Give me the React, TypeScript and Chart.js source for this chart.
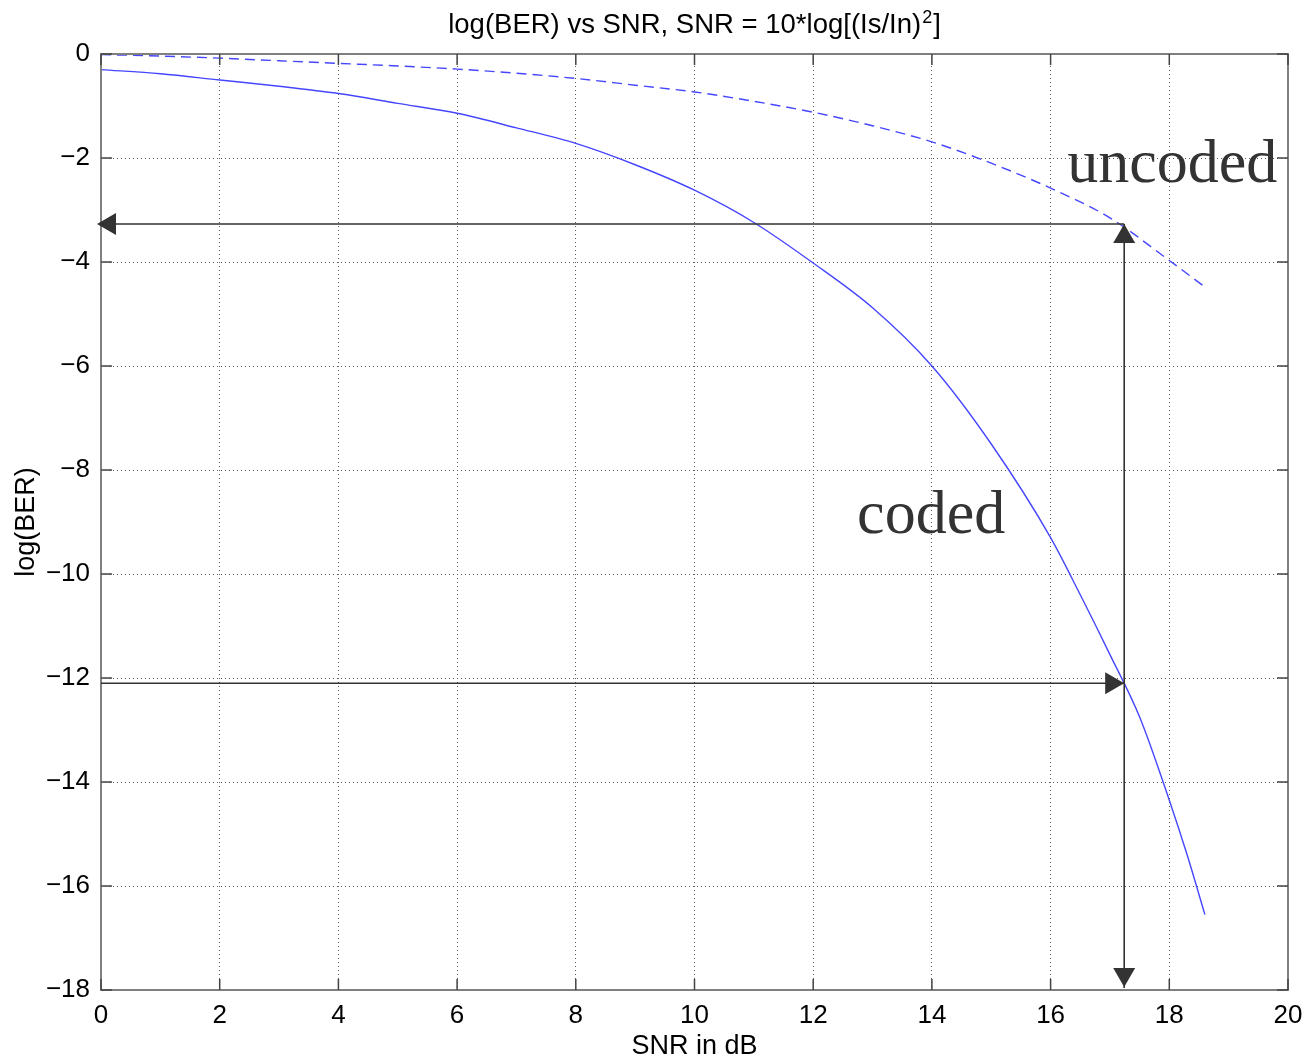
import React, { useEffect, useRef } from "react";
import { Chart, registerables } from "chart.js";

Chart.register(...registerables);

// ---------- data ----------
const snrCoded = [0, 1, 2, 3, 4, 5, 6, 7, 8, 9, 10, 11, 12, 13, 14, 15, 16, 16.5, 17, 17.5, 18, 18.3, 18.6];
const berCoded = [-0.3, -0.38, -0.5, -0.62, -0.76, -0.95, -1.14, -1.42, -1.72, -2.13, -2.62, -3.24, -4.02, -4.88, -6.0, -7.5, -9.3, -10.4, -11.55, -12.75, -14.35, -15.4, -16.55];

const snrUncoded = [0, 1, 2, 3, 4, 5, 6, 7, 8, 9, 10, 11, 12, 13, 14, 15, 16, 17, 18, 18.6];
const berUncoded = [-0.01, -0.04, -0.08, -0.13, -0.18, -0.23, -0.29, -0.37, -0.47, -0.6, -0.73, -0.91, -1.12, -1.38, -1.69, -2.1, -2.58, -3.15, -3.97, -4.48];

const xTicks = [0, 2, 4, 6, 8, 10, 12, 14, 16, 18, 20];
const yTicks = [0, -2, -4, -6, -8, -10, -12, -14, -16, -18];

// annotation anchors (data units)
const arrowSnr = 17.24;
const uncodedLevel = -3.27;
const codedLevel = -12.1;
const uncodedLabel = { text: "uncoded", x: 16.28, y: -2.46 };
const codedLabel = { text: "coded", x: 12.74, y: -9.21 };

const titleMain = "log(BER) vs SNR, SNR = 10*log[(Is/In)";
const titleSup = "2";
const titleEnd = "]";

const SANS = '"Liberation Sans", Arial, Helvetica, sans-serif';
const SERIF = '"Liberation Serif", "Times New Roman", serif';

function arrowHead(ctx: CanvasRenderingContext2D, tx: number, ty: number, dx: number, dy: number) {
  const len = 19;
  const half = 11;
  const bx = tx - dx * len;
  const by = ty - dy * len;
  const px = -dy;
  const py = dx;
  ctx.beginPath();
  ctx.moveTo(tx, ty);
  ctx.lineTo(bx + px * half, by + py * half);
  ctx.lineTo(bx - px * half, by - py * half);
  ctx.closePath();
  ctx.fill();
}

const decorPlugin = {
  id: "decor",
  afterDraw(chart: any) {
    const { ctx, chartArea: a, scales } = chart;
    const xs = scales.x;
    const ys = scales.y;
    ctx.save();

    // box
    ctx.setLineDash([]);
    ctx.strokeStyle = "#808080";
    ctx.lineWidth = 2;
    ctx.strokeRect(a.left, a.top, a.right - a.left, a.bottom - a.top);

    // inward ticks
    ctx.strokeStyle = "#444";
    ctx.lineWidth = 1.5;
    ctx.beginPath();
    for (const v of xTicks) {
      const px = xs.getPixelForValue(v);
      ctx.moveTo(px, a.bottom);
      ctx.lineTo(px, a.bottom - 11);
      ctx.moveTo(px, a.top);
      ctx.lineTo(px, a.top + 11);
    }
    for (const v of yTicks) {
      const py = ys.getPixelForValue(v);
      ctx.moveTo(a.left, py);
      ctx.lineTo(a.left + 11, py);
      ctx.moveTo(a.right, py);
      ctx.lineTo(a.right - 11, py);
    }
    ctx.stroke();

    // arrows
    const ax = xs.getPixelForValue(arrowSnr);
    const uy = ys.getPixelForValue(uncodedLevel);
    const cy = ys.getPixelForValue(codedLevel);
    const x0 = xs.getPixelForValue(0);
    const yb = ys.getPixelForValue(-18);
    ctx.strokeStyle = "#333";
    ctx.fillStyle = "#333";
    ctx.lineWidth = 1.6;
    ctx.beginPath();
    ctx.moveTo(ax, uy);
    ctx.lineTo(x0 - 2, uy);
    ctx.moveTo(x0, cy);
    ctx.lineTo(ax, cy);
    ctx.moveTo(ax, uy);
    ctx.lineTo(ax, yb - 2);
    ctx.stroke();
    arrowHead(ctx, x0 - 4, uy, -1, 0);
    arrowHead(ctx, ax, cy, 1, 0);
    arrowHead(ctx, ax, uy, 0, -1);
    arrowHead(ctx, ax, yb - 3, 0, 1);

    // labels
    ctx.font = `62px ${SERIF}`;
    ctx.textAlign = "left";
    ctx.textBaseline = "alphabetic";
    ctx.fillText(uncodedLabel.text, xs.getPixelForValue(uncodedLabel.x), ys.getPixelForValue(uncodedLabel.y));
    ctx.fillText(codedLabel.text, xs.getPixelForValue(codedLabel.x), ys.getPixelForValue(codedLabel.y));

    // title
    ctx.fillStyle = "#000";
    const mainFont = `27.5px ${SANS}`;
    const supFont = `18px ${SANS}`;
    ctx.font = mainFont;
    const w1 = ctx.measureText(titleMain).width;
    const w3 = ctx.measureText(titleEnd).width;
    ctx.font = supFont;
    const w2 = ctx.measureText(titleSup).width + 2;
    const total = w1 + w2 + w3;
    let tx = (a.left + a.right) / 2 - total / 2;
    const base = 33;
    ctx.font = mainFont;
    ctx.fillText(titleMain, tx, base);
    tx += w1;
    ctx.font = supFont;
    ctx.fillText(titleSup, tx + 1, base - 10);
    tx += w2;
    ctx.font = mainFont;
    ctx.fillText(titleEnd, tx, base);

    ctx.restore();
  },
};

export default function App() {
  const canvasRef = useRef<HTMLCanvasElement | null>(null);

  useEffect(() => {
    const canvas = canvasRef.current;
    if (!canvas) return;
    const chart = new Chart(canvas, {
      type: "line",
      data: {
        datasets: [
          {
            label: "coded",
            data: snrCoded.map((x, i) => ({ x, y: berCoded[i] })),
            borderColor: "rgb(70,70,255)",
            borderWidth: 1.4,
            pointRadius: 0,
            fill: false,
            cubicInterpolationMode: "monotone",
          },
          {
            label: "uncoded",
            data: snrUncoded.map((x, i) => ({ x, y: berUncoded[i] })),
            borderColor: "rgb(70,70,255)",
            borderWidth: 1.4,
            borderDash: [10, 6],
            pointRadius: 0,
            fill: false,
            cubicInterpolationMode: "monotone",
          },
        ],
      },
      options: {
        responsive: false,
        animation: false,
        devicePixelRatio: 1,
        layout: { padding: { top: 54, right: 18, left: 0, bottom: 0 } },
        plugins: {
          legend: { display: false },
          title: { display: false },
          tooltip: { enabled: false },
        },
        scales: {
          x: {
            type: "linear",
            min: 0,
            max: 20,
            afterBuildTicks: (s: any) => {
              s.ticks = xTicks.map((v) => ({ value: v }));
            },
            afterFit: (s: any) => {
              s.height = 72;
              s.paddingLeft = 0;
              s.paddingRight = 0;
            },
            ticks: {
              autoSkip: false,
              maxRotation: 0,
              padding: 10,
              color: "#000",
              font: { family: SANS, size: 26 },
              callback: (v: any) => String(v),
            },
            grid: {
              color: "#5a5a5a",
              lineWidth: 1,
              drawTicks: false,
            },
            border: { display: false, dash: [1, 3] },
            title: {
              display: true,
              text: "SNR in dB",
              color: "#000",
              font: { family: SANS, size: 27, lineHeight: 1 },
              padding: { top: 0, bottom: 1.5 },
            },
          },
          y: {
            type: "linear",
            min: -18,
            max: 0,
            afterBuildTicks: (s: any) => {
              s.ticks = yTicks.slice().reverse().map((v) => ({ value: v }));
            },
            afterFit: (s: any) => {
              s.width = 101;
              s.paddingTop = 0;
              s.paddingBottom = 0;
            },
            ticks: {
              autoSkip: false,
              padding: 11,
              color: "#000",
              font: { family: SANS, size: 26 },
              callback: (v: any) => (Number(v) < 0 ? "\u2212" + String(Math.abs(Number(v))) : String(v)),
            },
            grid: {
              color: "#5a5a5a",
              lineWidth: 1,
              drawTicks: false,
            },
            border: { display: false, dash: [1, 3] },
            title: {
              display: true,
              text: "log(BER)",
              color: "#000",
              font: { family: SANS, size: 27, lineHeight: 1 },
              padding: { top: 13.5, bottom: 0 },
            },
          },
        },
      } as any,
      plugins: [decorPlugin],
    });
    return () => chart.destroy();
  }, []);

  return (
    <div style={{ position: "absolute", left: 0, top: 0, width: 1306, height: 1062, background: "#fff" }}>
      <canvas ref={canvasRef} width={1306} height={1062} style={{ width: 1306, height: 1062, display: "block" }} />
    </div>
  );
}
